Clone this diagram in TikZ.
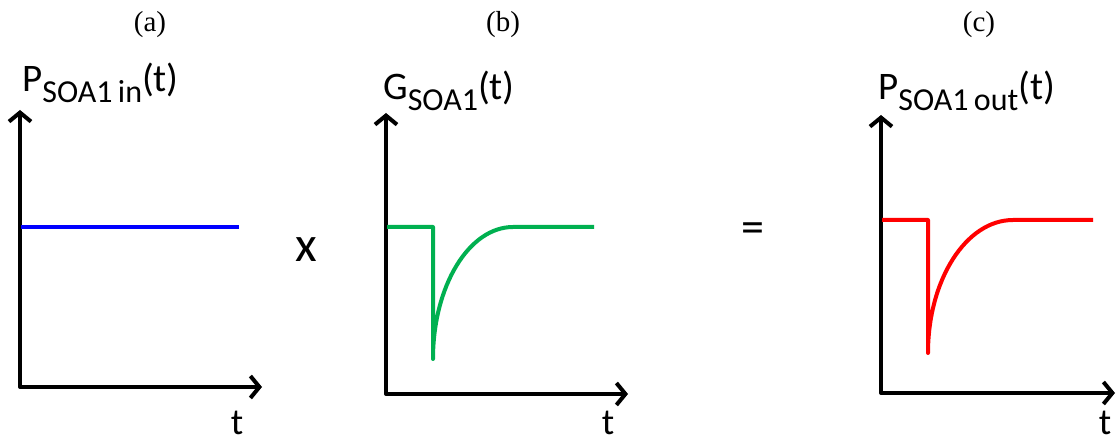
\documentclass[tikz,border=0pt]{standalone}
\usepackage{fontspec}
\setmainfont{Liberation Serif}
\newfontfamily\calibfont{Carlito}
\usetikzlibrary{arrows.meta}
\definecolor{gaingreen}{RGB}{0,176,80}
\newcommand{\sigsub}[2]{{\calibfont\fontsize{39}{39}\selectfont #1\raisebox{-11pt}{\fontsize{32}{32}\selectfont #2}(t)}}
\begin{document}
\begin{tikzpicture}[x=1pt, y=-1pt, line join=round,
	>={Straight Barb[length=9pt,width=22pt]},
	axis/.style={line width=4pt, <->},
	signal/.style={line width=4pt},
	panellabel/.style={inner sep=0pt, font=\fontsize{29pt}{30pt}\selectfont},
	bigsans/.style={font=\calibfont\fontsize{37}{37}\selectfont, inner sep=0pt}]
	\useasboundingbox (0,0) rectangle (1117,443);
	% panel (a)
	\coordinate (atop) at (20,110);
	\coordinate (aend) at (262,387);
	\draw[axis] (atop) |- (aend);
	\draw[signal, blue] (21,227) -- (239,227);
	\node[panellabel] (lbla) at (150,25) {(a)};
	\node[anchor=base west, inner sep=0pt] (ya) at (22,92) {\sigsub{P}{SOA1\,in}};
	\node[bigsans, anchor=base] (ta) at (237,435) {t};
	\node[bigsans, font=\calibfont\fontsize{50}{50}\selectfont] (times) at (306,250) {x};
	% panel (b)
	\coordinate (btop) at (386,113);
	\coordinate (bend) at (628,394);
	\draw[axis] (btop) |- (bend);
	\draw[signal, gaingreen] (387,227) -- (433,227) -- (433,359)
		.. controls (433,286) and (469,227) .. (513,227) -- (594,227);
	\node[panellabel] (lblb) at (503,25) {(b)};
	\node[anchor=base west, inner sep=0pt] (yb) at (383,100) {\sigsub{G}{SOA1}};
	\node[bigsans, anchor=base] (tb) at (608,435) {t};
	\node[bigsans, font=\calibfont\fontsize{46}{46}\selectfont] (equal) at (753,233) {=};
	% panel (c)
	\coordinate (ctop) at (881,115);
	\coordinate (cend) at (1115,393);
	\draw[axis] (ctop) |- (cend);
	\draw[signal, red] (882,220) -- (928,220) -- (928,353)
		.. controls (928,280) and (966,220) .. (1013,220) -- (1093,220);
	\node[panellabel] (lblc) at (979,25) {(c)};
	\node[anchor=base west, inner sep=0pt] (yc) at (878,100) {\sigsub{P}{SOA1\,out}};
	\node[bigsans, anchor=base] (tc) at (1105,435) {t};
\end{tikzpicture}
\end{document}
